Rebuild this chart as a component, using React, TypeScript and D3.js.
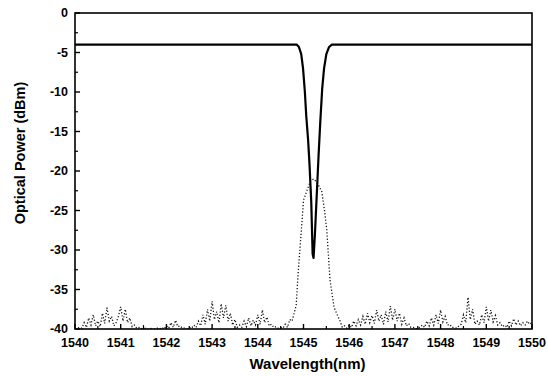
import React from "react";
import * as d3 from "d3";

const xTicks = [1540, 1541, 1542, 1543, 1544, 1545, 1546, 1547, 1548, 1549, 1550];
const yTicks = [0, -5, -10, -15, -20, -25, -30, -35, -40];

// Solid trace (transmission with notch): wavelength (nm), power (dBm)
const solidWl = [1540, 1544.85, 1544.9, 1544.95, 1544.99, 1545.03, 1545.06, 1545.1, 1545.13, 1545.17, 1545.2, 1545.22, 1545.25, 1545.29, 1545.33, 1545.37, 1545.41, 1545.45, 1545.5, 1545.56, 1545.62, 1550];
const solidPw = [-4, -4, -4.3, -5.2, -7, -10, -13, -16, -19, -24, -30.5, -31, -28, -23, -18, -13.5, -9.5, -7, -5.2, -4.3, -4, -4];

// Dotted trace (laser spectrum with noise floor): [wavelength, power]
const dotData: [number, number][] = [
  [1540.00, -40], [1540.05, -39.9], [1540.10, -39.8], [1540.15, -39.9], [1540.20, -39.2], [1540.25, -39.8],
  [1540.30, -38.6], [1540.35, -39.5], [1540.40, -38.2], [1540.45, -39.6], [1540.50, -39.0], [1540.55, -39.7],
  [1540.60, -38.0], [1540.65, -39.3], [1540.70, -37.3], [1540.75, -39.0], [1540.80, -38.4], [1540.85, -39.6],
  [1540.90, -39.2], [1540.95, -38.4], [1541.00, -37.2], [1541.05, -39.0], [1541.10, -37.5], [1541.15, -39.2],
  [1541.20, -38.6], [1541.25, -39.7], [1541.30, -39.5], [1541.35, -39.9], [1541.40, -39.8], [1541.45, -40],
  [1541.50, -39.6], [1541.55, -40], [1541.60, -40], [1541.65, -39.9], [1541.70, -40], [1541.75, -40],
  [1541.80, -39.9], [1541.85, -40], [1541.90, -39.8], [1541.95, -40], [1542.00, -39.6], [1542.05, -39.9],
  [1542.10, -39.2], [1542.15, -39.8], [1542.20, -38.9], [1542.25, -39.7], [1542.30, -39.6], [1542.35, -39.9],
  [1542.40, -39.9], [1542.45, -40], [1542.50, -39.8], [1542.55, -39.9], [1542.60, -39.5], [1542.65, -39.8],
  [1542.70, -39.0], [1542.75, -39.6], [1542.80, -38.2], [1542.85, -39.4], [1542.90, -37.5], [1542.95, -39.0],
  [1543.00, -36.5], [1543.05, -38.8], [1543.10, -37.8], [1543.15, -39.2], [1543.20, -36.8], [1543.25, -38.6],
  [1543.30, -37.0], [1543.35, -39.0], [1543.40, -38.0], [1543.45, -39.5], [1543.50, -38.8], [1543.55, -39.8],
  [1543.60, -39.5], [1543.65, -39.8], [1543.70, -39.0], [1543.75, -39.7], [1543.80, -38.6], [1543.85, -39.6],
  [1543.90, -38.9], [1543.95, -39.5], [1544.00, -38.2], [1544.05, -39.4], [1544.10, -37.6], [1544.15, -39.2],
  [1544.20, -38.5], [1544.25, -39.6], [1544.30, -39.4], [1544.35, -39.8], [1544.40, -39.7], [1544.45, -39.9],
  [1544.50, -39.8], [1544.55, -39.9], [1544.60, -39.4], [1544.65, -39.8], [1544.70, -38.8],
  [1544.75, -39.0], [1544.84, -37.0], [1544.88, -33.2], [1544.92, -30.0], [1544.97, -26.2], [1545.00, -23.7],
  [1545.08, -22.4], [1545.15, -21.3], [1545.22, -21.0], [1545.30, -21.5], [1545.40, -22.6], [1545.46, -25],
  [1545.51, -27.5], [1545.58, -33.8], [1545.67, -37.3], [1545.80, -39.0],
  [1545.85, -39.8], [1545.90, -39.6], [1545.95, -39.9], [1546.00, -39.5], [1546.05, -39.8], [1546.10, -39.0],
  [1546.15, -39.6], [1546.20, -38.8], [1546.25, -39.5], [1546.30, -38.4], [1546.35, -39.4], [1546.40, -38.0],
  [1546.45, -39.2], [1546.50, -38.3], [1546.55, -39.3], [1546.60, -37.6], [1546.65, -39.0], [1546.70, -38.2],
  [1546.75, -39.4], [1546.80, -37.8], [1546.85, -39.1], [1546.90, -37.1], [1546.95, -38.9], [1547.00, -37.5],
  [1547.05, -39.0], [1547.10, -38.0], [1547.15, -39.4], [1547.20, -38.6], [1547.25, -39.6], [1547.30, -39.3],
  [1547.35, -39.8], [1547.40, -39.8], [1547.45, -40], [1547.50, -39.9], [1547.55, -39.8], [1547.60, -39.5],
  [1547.65, -39.8], [1547.70, -39.0], [1547.75, -39.6], [1547.80, -38.6], [1547.85, -39.5], [1547.90, -38.2],
  [1547.95, -39.3], [1548.00, -37.6], [1548.05, -39.1], [1548.10, -38.4], [1548.15, -39.5], [1548.20, -39.4],
  [1548.25, -39.8], [1548.30, -39.8], [1548.35, -39.9], [1548.40, -39.6], [1548.45, -39.4], [1548.50, -38.2],
  [1548.55, -39.2], [1548.60, -36.0], [1548.65, -38.8], [1548.70, -37.5], [1548.75, -39.4], [1548.80, -39.0],
  [1548.85, -39.5], [1548.90, -38.2], [1548.95, -39.2], [1549.00, -37.2], [1549.05, -39.0], [1549.10, -37.6],
  [1549.15, -39.1], [1549.20, -38.3], [1549.25, -39.5], [1549.30, -39.2], [1549.35, -39.7], [1549.40, -39.5],
  [1549.45, -39.8], [1549.50, -39.0], [1549.55, -39.6], [1549.60, -38.7], [1549.65, -39.5], [1549.70, -39.0],
  [1549.75, -39.6], [1549.80, -39.2], [1549.85, -39.5], [1549.90, -39.0], [1549.95, -39.4], [1550.00, -39.2],
];

const W = 548, H = 376;
const m = { left: 75, right: 532, top: 13, bottom: 329 };

export default function App() {
  const x = d3.scaleLinear().domain([1540, 1550]).range([m.left, m.right]);
  const y = d3.scaleLinear().domain([-40, 0]).range([m.bottom, m.top]);
  const solid = d3.line<number>().x((d, i) => x(solidWl[i])).y((d) => y(d))(solidPw) || "";
  const dotted = d3.line<[number, number]>().x((d) => x(d[0])).y((d) => y(d[1]))(dotData) || "";
  const font = "Arial, 'Liberation Sans', sans-serif";
  const yMinor = d3.range(0, 8).map((i) => -2.5 - 5 * i);
  const xMinor = d3.range(0, 10).map((i) => 1540.5 + i);
  return (
    <svg width={W} height={H} style={{ position: "absolute", left: 0, top: 0, background: "#fff" }}>
      <defs>
        <clipPath id="plot">
          <rect x={m.left} y={m.top} width={m.right - m.left} height={m.bottom - m.top} />
        </clipPath>
      </defs>
      <g clipPath="url(#plot)">
        <path d={dotted} fill="none" stroke="#111" strokeWidth={1.3} strokeDasharray="1.2,2" />
        <path d={solid} fill="none" stroke="#000" strokeWidth={2.2} strokeLinejoin="round" />
      </g>
      <rect x={m.left} y={m.top} width={m.right - m.left} height={m.bottom - m.top} fill="none" stroke="#000" strokeWidth={1.6} />
      {yTicks.map((t) => (
        <g key={"y" + t}>
          <line x1={m.left} x2={m.left + 5} y1={y(t)} y2={y(t)} stroke="#000" strokeWidth={1.4} />
          <text x={m.left - 7} y={y(t)} dy="0.35em" textAnchor="end" fontFamily={font} fontWeight="bold" fontSize={12.5}>
            {t}
          </text>
        </g>
      ))}
      {yMinor.map((t) => (
        <line key={"ym" + t} x1={m.left} x2={m.left + 3} y1={y(t)} y2={y(t)} stroke="#000" strokeWidth={1.2} />
      ))}
      {xTicks.map((t) => (
        <g key={"x" + t}>
          <line x1={x(t)} x2={x(t)} y1={m.bottom} y2={m.bottom - 5} stroke="#000" strokeWidth={1.4} />
          <text x={x(t)} y={m.bottom + 18} textAnchor="middle" fontFamily={font} fontWeight="bold" fontSize={12.5}>
            {t}
          </text>
        </g>
      ))}
      {xMinor.map((t) => (
        <line key={"xm" + t} x1={x(t)} x2={x(t)} y1={m.bottom} y2={m.bottom - 3} stroke="#000" strokeWidth={1.2} />
      ))}
      <text x={(m.left + m.right) / 2 + 4} y={369} textAnchor="middle" fontFamily={font} fontWeight="bold" fontSize={15}>
        Wavelength(nm)
      </text>
      <text transform={`translate(25,153) rotate(-90)`} textAnchor="middle" fontFamily={font} fontWeight="bold" fontSize={14.5}>
        Optical Power (dBm)
      </text>
    </svg>
  );
}
